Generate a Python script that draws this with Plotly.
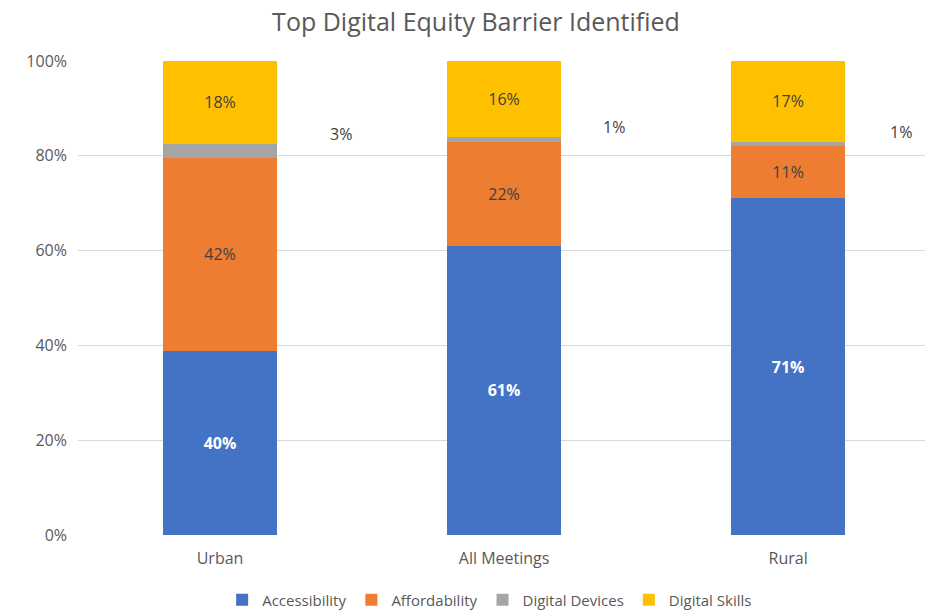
import plotly.graph_objects as go

categories = ["Urban", "All Meetings", "Rural"]
accessibility = [40, 61, 71]
affordability = [42, 22, 11]
digital_devices = [3, 1, 1]
digital_skills = [18, 16, 17]

series = [
    ("Accessibility", accessibility, "#4472C4", "white", True),
    ("Affordability", affordability, "#ED7D31", "#404040", False),
    ("Digital Devices", digital_devices, "#A5A5A5", "#404040", False),
    ("Digital Skills", digital_skills, "#FFC000", "#404040", False),
]

FONT = "Open Sans"
device_label_shift = [121, 110, 113]

fig = go.Figure()
for name, vals, color, tcolor, bold in series:
    inside = name != "Digital Devices"
    fig.add_trace(go.Bar(
        name=name, x=categories, y=vals,
        marker=dict(color=color, line=dict(width=0)),
        width=0.4,
        text=[f"<b>{v}%</b>" if bold else f"{v}%" for v in vals] if inside else None,
        textposition="inside" if inside else "none",
        insidetextanchor="middle",
        textangle=0,
        textfont=dict(color=tcolor, size=16, family=FONT),
        hoverinfo="skip",
    ))

# outside labels for the thin Digital Devices segments
for i, c in enumerate(categories):
    total = accessibility[i] + affordability[i] + digital_devices[i] + digital_skills[i]
    top = (accessibility[i] + affordability[i] + digital_devices[i]) / total * 100
    fig.add_annotation(x=c, y=top, text=f"{digital_devices[i]}%", showarrow=False,
                       xshift=device_label_shift[i], yshift=10,
                       font=dict(size=16, color="#404040", family=FONT))

fig.update_layout(
    barmode="stack", barnorm="percent",
    width=925, height=613,
    margin=dict(l=78, r=0, t=61, b=78, autoexpand=False),
    paper_bgcolor="white", plot_bgcolor="white",
    title=dict(text="Top Digital Equity Barrier Identified", x=0.5146, xanchor="center",
               y=0.964, yanchor="middle",
               font=dict(size=25, color="#595959", family=FONT)),
    showlegend=True,
    legend=dict(orientation="h", x=0.486, xanchor="center", y=-0.137, yanchor="middle",
                font=dict(size=15, color="#595959", family=FONT),
                traceorder="normal", itemwidth=30),
    font=dict(family=FONT, color="#595959"),
)
fig.update_xaxes(range=[-0.5, 2.482], showline=False, ticks="",
                 tickfont=dict(size=16, color="#595959"), showgrid=False,
                 ticklabelstandoff=12)
fig.update_yaxes(range=[0, 100], tickvals=[0, 20, 40, 60, 80, 100],
                 ticktext=["0%", "20%", "40%", "60%", "80%", "100%"],
                 showgrid=True, gridcolor="#D9D9D9", gridwidth=1,
                 zeroline=False, showline=False, ticks="",
                 tickfont=dict(size=16, color="#595959"), ticklabelstandoff=10)

fig.write_html("out.html", config={"displayModeBar": False},
               post_script="document.body.style.margin='0';document.body.style.overflow='hidden';")
